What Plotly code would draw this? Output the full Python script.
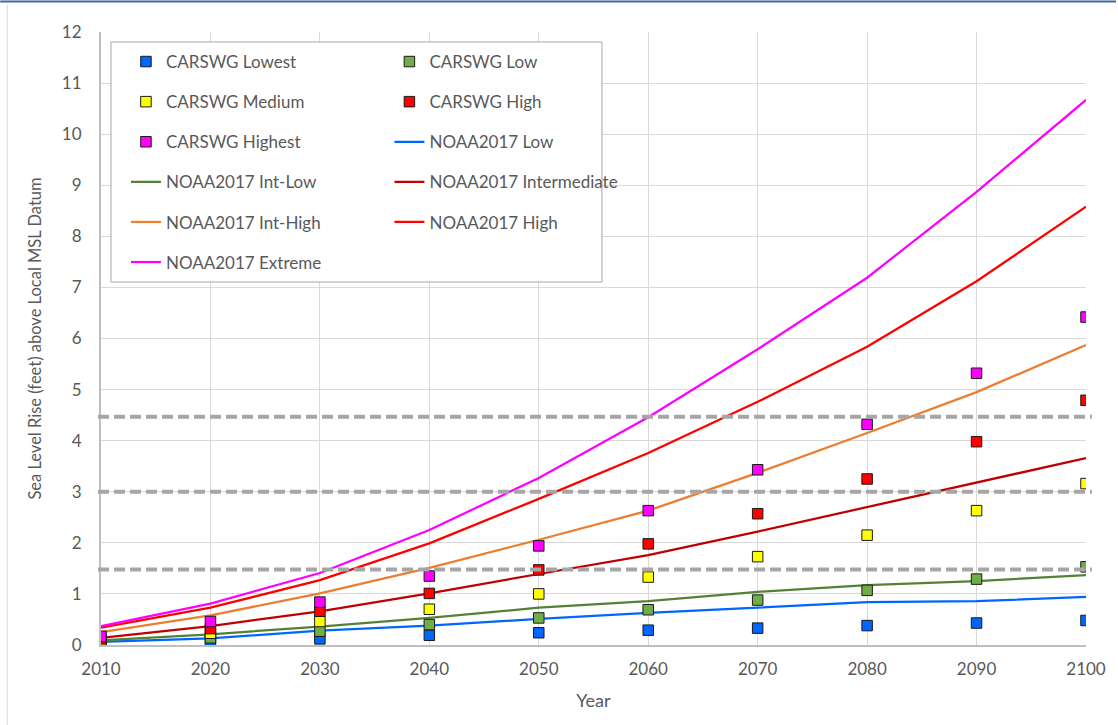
import plotly.graph_objects as go

years = [2010, 2020, 2030, 2040, 2050, 2060, 2070, 2080, 2090, 2100]

# CARSWG projections (feet), shown as square markers
carswg_lowest = [0.04, 0.08, 0.12, 0.19, 0.24, 0.29, 0.33, 0.38, 0.43, 0.48]
carswg_low = [0.06, 0.14, 0.27, 0.40, 0.53, 0.69, 0.88, 1.07, 1.29, 1.53]
carswg_medium = [0.09, 0.23, 0.46, 0.70, 1.00, 1.33, 1.73, 2.15, 2.63, 3.16]
carswg_high = [0.12, 0.32, 0.66, 1.01, 1.47, 1.98, 2.57, 3.25, 3.98, 4.79]
carswg_highest = [0.17, 0.46, 0.84, 1.35, 1.94, 2.63, 3.43, 4.32, 5.32, 6.42]

# NOAA 2017 scenarios (feet), shown as lines
noaa_low = [0.06, 0.13, 0.28, 0.38, 0.51, 0.63, 0.73, 0.84, 0.86, 0.94]
noaa_int_low = [0.09, 0.21, 0.36, 0.53, 0.73, 0.86, 1.04, 1.17, 1.25, 1.37]
noaa_intermediate = [0.14, 0.37, 0.66, 1.01, 1.39, 1.76, 2.22, 2.70, 3.17, 3.66]
noaa_int_high = [0.25, 0.58, 1.01, 1.51, 2.06, 2.63, 3.37, 4.15, 4.95, 5.87]
noaa_high = [0.34, 0.73, 1.27, 1.99, 2.86, 3.76, 4.76, 5.84, 7.12, 8.58]
noaa_extreme = [0.37, 0.81, 1.41, 2.25, 3.27, 4.46, 5.79, 7.19, 8.87, 10.67]

# Horizontal reference levels (feet)
reference_levels = [1.48, 3.0, 4.47]

y_ticks = list(range(0, 13))

FONT = "Lato, 'Open Sans', sans-serif"
TEXT = "#595959"

fig = go.Figure()

# Legend column assignment: left column -> "legend", right column -> "legend2"
markers = [
    ("CARSWG Lowest", carswg_lowest, "#0066ff", "legend"),
    ("CARSWG Low", carswg_low, "#70ad47", "legend2"),
    ("CARSWG Medium", carswg_medium, "#ffff00", "legend"),
    ("CARSWG High", carswg_high, "#ff0000", "legend2"),
    ("CARSWG Highest", carswg_highest, "#ff00ff", "legend"),
]
lines = [
    ("NOAA2017 Low", noaa_low, "#0066ff", "legend2"),
    ("NOAA2017 Int-Low", noaa_int_low, "#548235", "legend"),
    ("NOAA2017 Intermediate", noaa_intermediate, "#c00000", "legend2"),
    ("NOAA2017 Int-High", noaa_int_high, "#ed7d31", "legend"),
    ("NOAA2017 High", noaa_high, "#ff0000", "legend2"),
    ("NOAA2017 Extreme", noaa_extreme, "#ff00ff", "legend"),
]

# Lines first so the square markers sit on top of them
for i, (name, vals, color, leg) in enumerate(lines):
    fig.add_trace(go.Scatter(
        x=years, y=vals, mode="lines", name=name,
        line=dict(color=color, width=2.25),
        legend=leg, legendgroup=name, legendrank=10 + 2 * i,
    ))

for i, (name, vals, color, leg) in enumerate(markers):
    fig.add_trace(go.Scatter(
        x=years, y=vals, mode="markers", name=name,
        marker=dict(symbol="square", size=10.5, color=color,
                    line=dict(color="#1a1a1a", width=1)),
        legend=leg, legendgroup=name, legendrank=i,
    ))

# Dashed reference levels across the plot
for lvl in reference_levels:
    fig.add_shape(type="line", xref="paper", yref="y",
                  x0=-0.003, x1=1.006, y0=lvl, y1=lvl,
                  line=dict(color="#a6a6a6", width=4, dash="11px,5px"),
                  layer="above")

# Legend frame
fig.add_shape(type="rect", xref="paper", yref="paper",
              x0=(111 - 101) / 987, x1=(603 - 101) / 987,
              y0=(645 - 282) / 613, y1=(645 - 42) / 613,
              line=dict(color="#a6a6a6", width=1), fillcolor="white",
              layer="above")

# Outer frame accents
fig.add_shape(type="line", xref="paper", yref="paper",
              x0=-101 / 987, x1=(1118 - 101) / 987,
              y0=(645 - 1.5) / 613, y1=(645 - 1.5) / 613,
              line=dict(color="#3d69a1", width=2))
fig.add_shape(type="line", xref="paper", yref="paper",
              x0=(7 - 101) / 987, x1=(7 - 101) / 987,
              y0=(645 - 725) / 613, y1=(645 - 4) / 613,
              line=dict(color="#d9d9d9", width=1))

legend_common = dict(
    bgcolor="rgba(0,0,0,0)", borderwidth=0,
    font=dict(family=FONT, size=17, color=TEXT),
    orientation="v", tracegroupgap=15,
    xanchor="left", yanchor="top", traceorder="grouped",
)

fig.update_layout(
    width=1118, height=725,
    margin=dict(l=101, r=30, t=32, b=80),
    paper_bgcolor="white", plot_bgcolor="white",
    font=dict(family=FONT, color=TEXT),
    showlegend=True,
    legend=dict(x=(126 - 101) / 987, y=(645 - 44) / 613, **legend_common),
    legend2=dict(x=(390 - 101) / 987, y=(645 - 44) / 613, **legend_common),
    xaxis=dict(
        range=[2010, 2100], tickmode="array", tickvals=years,
        showgrid=True, gridcolor="#d9d9d9", gridwidth=1,
        showline=True, linecolor="#bfbfbf", linewidth=2,
        zeroline=False, ticks="", ticklabelstandoff=8,
        tickfont=dict(family=FONT, size=17, color=TEXT),
        title=dict(text="Year", font=dict(family=FONT, size=18, color=TEXT),
                   standoff=16),
    ),
    yaxis=dict(
        range=[0, 12], tickmode="array", tickvals=y_ticks,
        showgrid=True, gridcolor="#d9d9d9", gridwidth=1,
        showline=True, linecolor="#bfbfbf", linewidth=2,
        zeroline=False, ticks="", ticklabelstandoff=14,
        tickfont=dict(family=FONT, size=17, color=TEXT),
        title=dict(text="Sea Level Rise (feet) above Local MSL Datum",
                   font=dict(family=FONT, size=16.5, color=TEXT), standoff=16),
    ),
)

fig.write_html("out.html")
